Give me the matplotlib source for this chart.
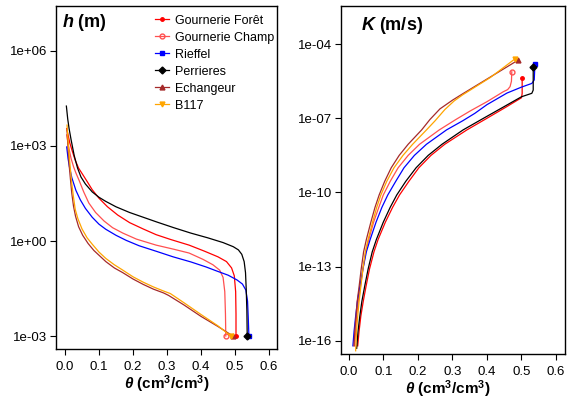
import numpy as np
import matplotlib.pyplot as plt
from matplotlib.ticker import FixedLocator, FuncFormatter

plt.rcParams['font.family'] = ['Liberation Sans', 'DejaVu Sans']
plt.rcParams['mathtext.fontset'] = 'custom'
plt.rcParams['mathtext.rm'] = 'Liberation Sans:bold'
plt.rcParams['mathtext.it'] = 'Liberation Sans:italic:bold'
plt.rcParams['mathtext.bf'] = 'Liberation Sans:bold'

sites = ["Gournerie Forêt", "Gournerie Champ", "Rieffel", "Perrieres", "Echangeur", "B117"]
colors = ["#FF0000", "#FF5050", "#0000FF", "#000000", "#A52A2A", "#FFA500"]
markers = [".", "o", "s", "D", "^", "v"]

# retention curves: theta (cm3/cm3) and log10 h (m)
th_h = {
    "Gournerie Forêt": [0.005, 0.009, 0.014, 0.021, 0.03, 0.04, 0.052, 0.065, 0.08, 0.1, 0.125, 0.155, 0.19, 0.23, 0.268, 0.31, 0.365, 0.41, 0.45, 0.475, 0.49, 0.498, 0.502, 0.503, 0.503],
    "Gournerie Champ": [0.005, 0.008, 0.012, 0.018, 0.025, 0.032, 0.042, 0.055, 0.07, 0.09, 0.115, 0.14, 0.17, 0.21, 0.268, 0.32, 0.365, 0.406, 0.435, 0.455, 0.465, 0.47, 0.472, 0.473],
    "Rieffel": [0.005, 0.009, 0.013, 0.02, 0.032, 0.045, 0.06, 0.08, 0.1, 0.12, 0.15, 0.18, 0.218, 0.27, 0.318, 0.37, 0.415, 0.447, 0.48, 0.506, 0.522, 0.532, 0.537, 0.539, 0.541],
    "Perrieres": [0.004, 0.008, 0.012, 0.018, 0.027, 0.037, 0.047, 0.06, 0.08, 0.1, 0.12, 0.15, 0.19, 0.23, 0.27, 0.32, 0.37, 0.42, 0.465, 0.495, 0.51, 0.52, 0.527, 0.531, 0.533, 0.535, 0.536],
    "Echangeur": [0.006, 0.008, 0.01, 0.013, 0.016, 0.02, 0.025, 0.031, 0.04, 0.052, 0.068, 0.085, 0.1, 0.12, 0.145, 0.17, 0.2, 0.23, 0.26, 0.29, 0.305, 0.35, 0.4, 0.45, 0.494],
    "B117": [0.006, 0.008, 0.01, 0.013, 0.016, 0.02, 0.025, 0.03, 0.038, 0.05, 0.065, 0.08, 0.1, 0.12, 0.145, 0.17, 0.2, 0.23, 0.26, 0.29, 0.31, 0.35, 0.4, 0.45, 0.488],
}
log_h = {
    "Gournerie Forêt": [3.55, 3.35, 3.1, 2.85, 2.55, 2.3, 2.1, 1.88, 1.62, 1.35, 1.08, 0.82, 0.58, 0.38, 0.2, 0.05, -0.13, -0.32, -0.5, -0.65, -0.85, -1.1, -1.6, -2.3, -3.0],
    "Gournerie Champ": [3.35, 3.15, 2.9, 2.6, 2.35, 2.15, 1.9, 1.55, 1.2, 0.9, 0.63, 0.42, 0.25, 0.06, -0.13, -0.26, -0.38, -0.58, -0.75, -0.92, -1.15, -1.6, -2.3, -3.0],
    "Rieffel": [2.97, 2.6, 2.34, 2.0, 1.6, 1.3, 1.03, 0.75, 0.53, 0.37, 0.18, 0.02, -0.15, -0.33, -0.5, -0.66, -0.82, -0.95, -1.08, -1.23, -1.36, -1.55, -1.9, -2.4, -3.0],
    "Perrieres": [4.26, 3.85, 3.55, 3.19, 2.7, 2.3, 2.02, 1.8, 1.55, 1.38, 1.25, 1.08, 0.9, 0.75, 0.6, 0.42, 0.25, 0.1, -0.05, -0.18, -0.28, -0.42, -0.65, -1.0, -1.5, -2.2, -3.0],
    "Echangeur": [3.5, 3.1, 2.75, 2.3, 1.95, 1.5, 1.1, 0.78, 0.45, 0.18, -0.08, -0.3, -0.45, -0.65, -0.85, -1.0, -1.2, -1.37, -1.52, -1.64, -1.72, -2.02, -2.38, -2.7, -3.0],
    "B117": [3.66, 3.3, 3.0, 2.6, 2.25, 1.8, 1.38, 1.0, 0.7, 0.38, 0.1, -0.1, -0.35, -0.55, -0.75, -0.92, -1.13, -1.3, -1.45, -1.58, -1.66, -1.95, -2.32, -2.68, -3.0],
}

# conductivity curves: theta and log10 K (m/s)
th_k = {
    "Gournerie Forêt": [0.026, 0.03, 0.035, 0.042, 0.05, 0.06, 0.073, 0.085, 0.106, 0.127, 0.147, 0.174, 0.203, 0.238, 0.278, 0.342, 0.4, 0.455, 0.5, 0.502, 0.502],
    "Gournerie Champ": [0.017, 0.02, 0.023, 0.028, 0.034, 0.041, 0.049, 0.058, 0.072, 0.087, 0.1, 0.12, 0.143, 0.172, 0.205, 0.262, 0.31, 0.352, 0.4, 0.447, 0.46, 0.467, 0.471, 0.472],
    "Rieffel": [0.012, 0.0155, 0.02, 0.025, 0.032, 0.041, 0.051, 0.062, 0.079, 0.096, 0.113, 0.136, 0.16, 0.19, 0.225, 0.283, 0.33, 0.365, 0.4, 0.458, 0.5, 0.53, 0.537, 0.539],
    "Perrieres": [0.023, 0.027, 0.032, 0.038, 0.046, 0.056, 0.068, 0.08, 0.1, 0.12, 0.139, 0.165, 0.195, 0.23, 0.27, 0.331, 0.39, 0.447, 0.5, 0.53, 0.534, 0.534],
    "Echangeur": [0.015, 0.0175, 0.021, 0.0245, 0.03, 0.036, 0.043, 0.051, 0.064, 0.076, 0.088, 0.104, 0.123, 0.146, 0.172, 0.211, 0.235, 0.264, 0.3, 0.331, 0.41, 0.49],
    "B117": [0.02, 0.0225, 0.026, 0.03, 0.035, 0.041, 0.048, 0.056, 0.069, 0.081, 0.093, 0.11, 0.131, 0.157, 0.185, 0.225, 0.25, 0.278, 0.305, 0.33, 0.41, 0.481],
}
log_k = {
    "Gournerie Forêt": [-16.2, -15.6, -15.0, -14.4, -13.8, -13.1, -12.4, -11.9, -11.2, -10.6, -10.1, -9.55, -9.0, -8.5, -8.05, -7.47, -7.0, -6.55, -6.17, -6.0, -5.36],
    "Gournerie Champ": [-16.2, -15.6, -15.0, -14.4, -13.8, -13.1, -12.4, -11.9, -11.2, -10.6, -10.1, -9.55, -9.0, -8.5, -8.05, -7.47, -7.05, -6.7, -6.33, -5.93, -5.84, -5.72, -5.5, -5.12],
    "Rieffel": [-16.2, -15.6, -15.0, -14.4, -13.8, -13.1, -12.4, -11.9, -11.2, -10.6, -10.1, -9.55, -9.0, -8.5, -8.05, -7.47, -7.1, -6.8, -6.45, -5.98, -5.74, -5.59, -5.45, -4.8],
    "Perrieres": [-16.3, -15.6, -15.0, -14.4, -13.8, -13.1, -12.4, -11.9, -11.2, -10.6, -10.1, -9.55, -9.0, -8.5, -8.05, -7.47, -7.0, -6.55, -6.13, -5.99, -5.86, -4.92],
    "Echangeur": [-16.2, -15.6, -15.0, -14.4, -13.8, -13.1, -12.4, -11.9, -11.2, -10.6, -10.1, -9.55, -9.0, -8.5, -8.05, -7.47, -7.05, -6.62, -6.27, -6.0, -5.33, -4.65],
    "B117": [-16.4, -15.6, -15.0, -14.4, -13.8, -13.1, -12.4, -11.9, -11.2, -10.6, -10.1, -9.55, -9.0, -8.5, -8.05, -7.47, -7.1, -6.65, -6.3, -6.05, -5.35, -4.6],
}

h_ticks = [-3, 0, 3, 6]
k_ticks = [-16, -13, -10, -7, -4]
theta_ticks = [0.0, 0.1, 0.2, 0.3, 0.4, 0.5, 0.6]

fig = plt.figure(figsize=(5.68, 4), dpi=100)
ax1 = fig.add_axes([0.0986, 0.1275, 0.389, 0.8575])
ax2 = fig.add_axes([0.600, 0.115, 0.3947, 0.87])

for s, c, m in zip(sites, colors, markers):
    ms = 5 if m == "." else 3.5
    mfc = "none" if m == "o" else c
    ax1.plot(th_h[s], 10.0 ** np.array(log_h[s]), color=c, lw=0.9, marker=m, ms=ms,
             mfc=mfc, mec=c, markevery=[-1], label=s)
    ax2.plot(th_k[s], 10.0 ** np.array(log_k[s]), color=c, lw=0.9, marker=m, ms=ms,
             mfc=mfc, mec=c, markevery=[-1])

fmt = FuncFormatter(lambda v, p: "1e%+03d" % int(round(np.log10(v))))
for ax, ticks, ylim in [(ax1, h_ticks, (10 ** -3.41, 10 ** 7.42)),
                        (ax2, k_ticks, (10 ** -16.53, 10 ** -2.46))]:
    ax.set_yscale("log")
    ax.set_ylim(*ylim)
    ax.yaxis.set_major_locator(FixedLocator([10.0 ** t for t in ticks]))
    ax.yaxis.set_minor_locator(FixedLocator([]))
    ax.yaxis.set_major_formatter(fmt)
    ax.set_xticks(theta_ticks)
    ax.set_xticklabels(["%.1f" % t for t in theta_ticks])
    ax.tick_params(direction="out", length=4, width=0.8, labelsize=9.5)
    ax.tick_params(axis="x", pad=4.5)
    ax.tick_params(axis="y", pad=2.5)
    ax.set_xlabel(r"$\theta$ (cm$^3$/cm$^3$)", fontsize=11, fontweight="bold", labelpad=0.5)
    for sp in ax.spines.values():
        sp.set_linewidth(1.0)

ax1.set_xlim(-0.0265, 0.6235)
ax2.set_xlim(-0.023, 0.626)
ax2.xaxis.set_label_coords(0.475, -0.07)

ax1.text(0.025, 0.953, r"$h$ (m)", transform=ax1.transAxes, fontsize=13,
         fontweight="bold", va="center")
ax2.text(0.09, 0.943, r"$K$ (m/s)", transform=ax2.transAxes, fontsize=13,
         fontweight="bold", va="center")

ax1.legend(loc="upper right", bbox_to_anchor=(1.0, 0.982), frameon=False, fontsize=9,
           handlelength=1.1, handletextpad=0.5, labelspacing=0.4, borderaxespad=0.1,
           borderpad=0.1)

fig.savefig("out.png", dpi=100)
